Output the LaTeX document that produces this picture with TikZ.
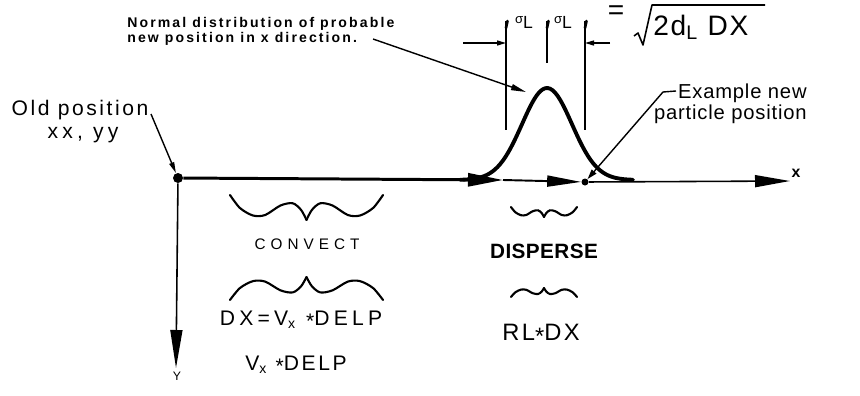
\documentclass[tikz,border=0pt]{standalone}
\usepackage{fontspec}
\setmainfont{Liberation Sans}
\usetikzlibrary{arrows.meta}

% wavy brace: left x, right x, y of the ends, depth of the tip
\newcommand{\wavybrace}[4]{%
  \draw[brace] plot[smooth] coordinates {(#1,#3)
    ({#1+0.065*(#2-#1)},{#3+0.52*#4}) ({#1+0.15*(#2-#1)},{#3+0.82*#4})
    ({#1+0.23*(#2-#1)},{#3+0.8*#4}) ({#1+0.33*(#2-#1)},{#3+0.42*#4})
    ({#1+0.41*(#2-#1)},{#3+0.33*#4}) ({#1+0.465*(#2-#1)},{#3+0.6*#4})
    ({(#1+#2)/2},{#3+#4})};
  \draw[brace] plot[smooth] coordinates {(#2,#3)
    ({#2-0.065*(#2-#1)},{#3+0.52*#4}) ({#2-0.15*(#2-#1)},{#3+0.82*#4})
    ({#2-0.23*(#2-#1)},{#3+0.8*#4}) ({#2-0.33*(#2-#1)},{#3+0.42*#4})
    ({#2-0.41*(#2-#1)},{#3+0.33*#4}) ({#2-0.465*(#2-#1)},{#3+0.6*#4})
    ({(#1+#2)/2},{#3+#4})};
}
\newcommand{\cstar}{\raisebox{-0.35ex}{*}}

\begin{document}
\begin{tikzpicture}[x=0.02cm, y=-0.02cm,
    every node/.style={inner sep=0pt},
    cad/.style 2 args={font=\fontsize{#1}{#1}\selectfont\addfontfeature{LetterSpace=#2}},
    cadb/.style 2 args={font=\fontsize{#1}{#1}\selectfont\bfseries\addfontfeature{LetterSpace=#2}},
    dot/.style={circle, fill=black, inner sep=0pt},
    leader/.style={line width=0.8pt},
    dimline/.style={line width=0.8pt},
    brace/.style={line width=1.2pt, line cap=round, line join=round},
    bell/.style={line width=2.2pt, line cap=round}
  ]
  \useasboundingbox (0,0) rectangle (860,396);

  % axes and the two moves
  \node[dot, minimum size=0.2cm] (oldpos) at (178,178) {};
  \node[dot, minimum size=0.14cm] (newpos) at (585,182) {};
  \coordinate (cvend) at (503,180);
  \coordinate (xend) at (790,181);
  \coordinate (yend) at (176,368);
  \draw[line width=1.7pt, -{Triangle[length=0.7cm,width=0.26cm]}] (oldpos) -- (cvend);
  \draw[line width=1.1pt, -{Triangle[length=0.68cm,width=0.22cm]}] (cvend) -- (newpos);
  \draw[line width=0.9pt, -{Triangle[length=0.7cm,width=0.24cm]}] (newpos) -- (xend);
  \draw[line width=0.9pt, -{Triangle[length=0.76cm,width=0.24cm]}] (oldpos) -- (yend);
  \node[cadb={9}{2}, anchor=base] (xlbl) at (796,177) {x};
  \node[cad={7}{2}, anchor=base] (ylbl) at (177,380) {Y};

  % normal distribution
  \draw[bell] plot[domain=-87:86, samples=70, smooth] ({547+\x},{180-92*exp(-0.5*(\x/25)*(\x/25))});
  \draw[dimline] (506,21) -- (506,130);
  \draw[dimline] (547,21) -- (547,63);
  \draw[dimline] (585,21) -- (585,130);
  \foreach \tx in {506,547,585}
    \draw[line width=1.5pt, line cap=round] (\tx+1.5,21) -- (\tx,28);
  \coordinate (sigl) at (506,43);
  \coordinate (sigr) at (585,43);
  \draw[dimline, -{Triangle[length=0.18cm,width=0.1cm]}] (463,43) -- (sigl);
  \draw[dimline, -{Triangle[length=0.18cm,width=0.1cm]}] (610,43) -- (sigr);
  \node[cad={10}{4}, anchor=base] (sig1) at (524,28) {{\fontsize{7.5}{7.5}\selectfont\raisebox{0.6ex}{σ}}L};
  \node[cad={10}{4}, anchor=base] (sig2) at (563,28) {{\fontsize{7.5}{7.5}\selectfont\raisebox{0.6ex}{σ}}L};
  \node[cad={16}{5}] (eqsign) at (616,13) {=};
  \draw[line width=0.9pt, line join=round] (634,36) -- (638,33) -- (643,45) -- (652,5) -- (765,5);
  \node[cad={16}{6}, anchor=base west] (sqtxt) at (653,35) {2d\textsubscript{L} DX};

  % callouts
  \node[cadb={8}{15}, anchor=base west] (norm1) at (127,27) {Normal distribution of probable};
  \node[cadb={8}{15}, anchor=base west] (norm2) at (127,42) {new position in x direction.};
  \coordinate (normlead) at (373,39);
  \coordinate (peakpt) at (526,92);
  \draw[leader, -{Triangle[length=0.3cm,width=0.12cm]}] (normlead) -- (peakpt);

  \node[cad={12}{12}, anchor=base] (old1) at (80,115) {Old position};
  \node[cad={12}{20}, anchor=base] (old2) at (83,138) {xx, yy};
  \coordinate (oldlead) at (151,114);
  \draw[leader, -{Triangle[length=0.22cm,width=0.1cm]}] (oldlead) -- (oldpos);

  \node[cad={11.5}{4}, anchor=base east] (ex1) at (807,98) {Example new};
  \node[cad={11.5}{4}, anchor=base east] (ex2) at (807,119) {particle position};
  \coordinate (exlead) at (676,91);
  \coordinate (exknee) at (663,92);
  \draw[leader, -{Triangle[length=0.2cm,width=0.12cm]}] (exlead) -- (exknee) -- (newpos);

  % convect and disperse steps
  \wavybrace{230}{383}{195}{25}
  \node[cad={8.7}{33}, anchor=base] (cvlbl) at (307,249) {CONVECT};
  \wavybrace{230}{383}{300}{-23}
  \node[cad={12}{20}, anchor=base] (cvdx) at (301,325) {DX=V\textsubscript{x} \cstar DELP};
  \node[cad={12}{12}, anchor=base] (cvvx) at (296,370) {V\textsubscript{x} \cstar DELP};
  \wavybrace{511}{577}{207}{10}
  \node[cadb={11.8}{2}, anchor=base] (dslbl) at (544,258) {DISPERSE};
  \wavybrace{511}{577}{297}{-9}
  \node[cad={13.5}{10}, anchor=base] (dsdx) at (541,340) {RL\cstar DX};
\end{tikzpicture}
\end{document}
